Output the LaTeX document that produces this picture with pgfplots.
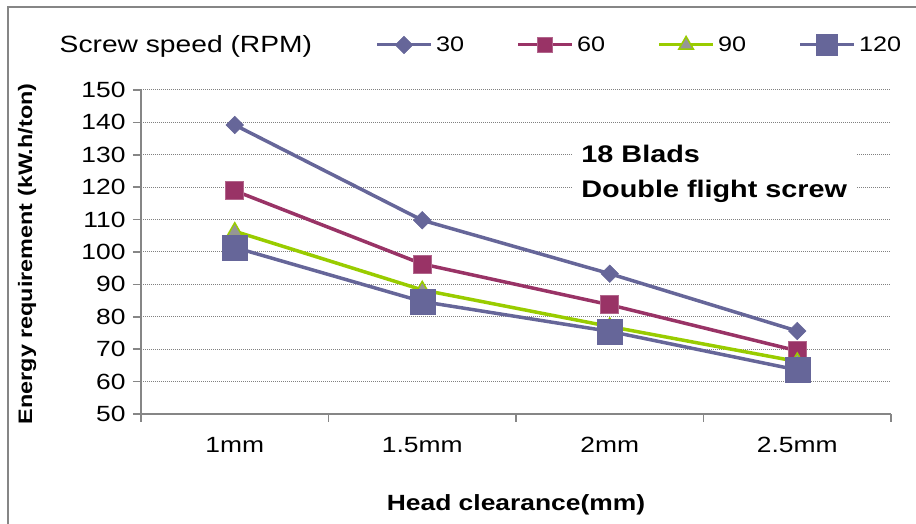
\documentclass[border=0pt]{standalone}
\usepackage{pgfplots}
\pgfplotsset{compat=1.18}
\usepackage{fontspec}
\setmainfont{Liberation Sans}[FakeStretch=1.2]
\definecolor{sblue}{HTML}{666699}
\definecolor{sred}{HTML}{993366}
\definecolor{sgreen}{HTML}{99CC00}
\definecolor{sgrey}{HTML}{969696}
\definecolor{axgrey}{HTML}{868686}
\begin{document}
\begin{tikzpicture}[x=1pt,y=1pt]
\useasboundingbox (0,0) rectangle (916,524);
\draw[axgrey, line width=2pt] (8,0) -- (8,517) -- (916,517);
\begin{axis}[
  at={(141pt,110pt)}, anchor=south west,
  scale only axis, width=750pt, height=324pt,
  xmin=-0.5, xmax=3.5, ymin=50, ymax=150,
  ytick={50,60,...,150},
  xtick={-0.5,0.5,1.5,2.5,3.5}, xticklabels={},
  extra x ticks={0,1,2,3},
  extra x tick labels={1mm,1.5mm,2mm,2.5mm},
  extra x tick style={major tick length=0pt, xticklabel style={yshift=-20pt}},
  axis x line*=bottom, axis y line*=left,
  axis line style={axgrey, line width=2pt, -},
  every outer x axis line/.append style={-},
  every outer y axis line/.append style={-},
  tick align=outside, major tick length=8pt,
  tick style={axgrey, line width=1.5pt},
  ymajorgrids, grid style={gray, line width=1pt, dash pattern=on 1pt off 1pt},
  tick label style={font=\fontsize{22}{22}\selectfont},
  /pgf/number format/assume math mode=true,
  yticklabel style={xshift=-4pt},
  xlabel={Head clearance(mm)},
  ylabel={Energy requirement (kW.h/ton)},
  xlabel style={at={(axis description cs:0.5,-0.281)}, anchor=center, font=\bfseries\fontsize{22}{22}\selectfont},
  ylabel style={at={(axis description cs:-0.152,0.494)}, anchor=center, font=\bfseries\fontsize{19.5}{19.5}\selectfont},
  legend columns=5,
  legend style={draw=none, fill=none, inner sep=0pt, outer sep=0pt,
    at={(-0.113,1.139)}, anchor=west,
    font=\fontsize{21}{21}\selectfont,
    nodes={inner xsep=3.5pt, inner ysep=2pt},
    /tikz/every even column/.append style={column sep=49pt}},
  legend image code/.code={\draw[mark repeat=2, mark phase=2] plot coordinates {(0pt,0pt) (27pt,0pt) (54pt,0pt)};},
  clip=false,
]
\addlegendimage{empty legend}
\addlegendentry{\fontsize{23.5}{23.5}\selectfont Screw speed (RPM)\hspace*{11pt}}
\addplot[sblue, line width=3.5pt, mark=square*, mark size=6.2pt, mark options={rotate=45, line width=0.5pt, fill=sblue},
  legend image post style={line width=3pt}]
  coordinates {(0,139.2) (1,109.8) (2,93.3) (3,75.6)};
\addlegendentry{30}
\addplot[sred, line width=3.5pt, mark=square*, mark size=9pt, mark options={line width=0.8pt, draw=sred!75!white, fill=sred},
  legend image post style={mark size=7.5pt, line width=3pt}]
  coordinates {(0,118.9) (1,96.3) (2,83.7) (3,69.5)};
\addlegendentry{60}
\addplot[sgreen, line width=3.5pt, mark=triangle*, mark size=8.5pt, mark options={line width=1.5pt, draw=sgreen, fill=sgrey},
  legend image post style={line width=3pt}]
  coordinates {(0,106.4) (1,88.3) (2,77.0) (3,66.2)};
\addlegendentry{90}
\addplot[sblue, line width=3.5pt, mark=square*, mark size=12.5pt, mark options={line width=0.5pt, fill=sblue},
  legend image post style={mark size=10.5pt, line width=3pt}]
  coordinates {(0,101.4) (1,84.7) (2,75.5) (3,63.6)};
\addlegendentry{120}
\node[anchor=north west, fill=white, align=left, inner xsep=9pt, inner ysep=6pt,
  font=\bfseries\fontsize{24}{35}\selectfont]
  at (axis cs:1.8,135) {18 Blads\\Double flight screw};
\end{axis}
\end{tikzpicture}
\end{document}
